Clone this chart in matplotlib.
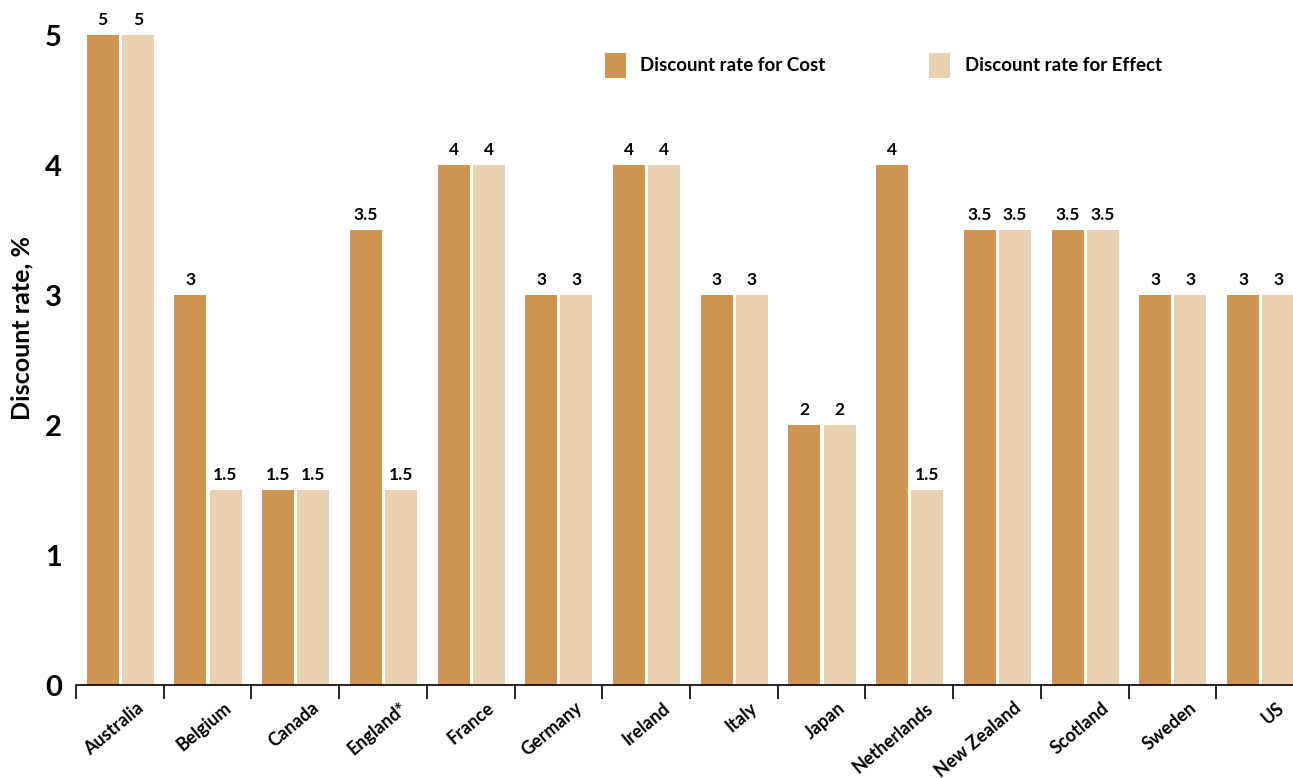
import matplotlib
matplotlib.use("Agg")
import matplotlib.pyplot as plt
import matplotlib.transforms as mtransforms
import numpy as np

countries = ["Australia", "Belgium", "Canada", "England*", "France", "Germany",
             "Ireland", "Italy", "Japan", "Netherlands", "New Zealand",
             "Scotland", "Sweden", "US"]
cost_rates = [5, 3, 1.5, 3.5, 4, 3, 4, 3, 2, 4, 3.5, 3.5, 3, 3]
effect_rates = [5, 1.5, 1.5, 1.5, 4, 3, 4, 3, 2, 1.5, 3.5, 3.5, 3, 3]
y_ticks = [0, 1, 2, 3, 4, 5]

COST_COLOR = "#CF9555"
EFFECT_COLOR = "#E9D0B0"

plt.rcParams["font.family"] = ["Lato", "DejaVu Sans"]

fig = plt.figure(figsize=(12.93, 7.78), dpi=100)
ax = fig.add_axes([76 / 1293, 93 / 778, 1228 / 1293, 685 / 778])

x = np.arange(len(countries))
w = 0.365
b1 = ax.bar(x - 0.195, cost_rates, width=w, color=COST_COLOR, label="Discount rate for Cost")
b2 = ax.bar(x + 0.205, effect_rates, width=w, color=EFFECT_COLOR, label="Discount rate for Effect")


def fmt(v):
    return f"{v:g}"


for bars, vals in ((b1, cost_rates), (b2, effect_rates)):
    for rect, v in zip(bars, vals):
        ax.annotate(fmt(v), (rect.get_x() + rect.get_width() / 2, v),
                    xytext=(0, 5), textcoords="offset points",
                    ha="center", va="bottom", fontsize=12.5, fontweight="bold")

ax.set_xlim(-0.5, len(countries) - 0.5)
ax.set_ylim(0, 685 / 130)

# group boundary ticks on the x axis, labels at group centres
ax.set_xticks(np.arange(len(countries)) - 0.5)
ax.set_xticklabels([])
ax.tick_params(axis="x", length=10, width=1.2, color="black")
offset = mtransforms.ScaledTranslation(16 / 100, 0, fig.dpi_scale_trans)
for xi, name in zip(x, countries):
    ax.text(xi, -0.11, name, rotation=40, ha="right", va="top",
            rotation_mode="anchor", fontsize=13, fontweight="bold",
            transform=ax.transData + offset)

ax.set_yticks(y_ticks)
ax.set_yticklabels([str(t) for t in y_ticks], fontsize=21, fontweight="bold")
ax.tick_params(axis="y", length=0, pad=10)

for side in ("left", "right", "top"):
    ax.spines[side].set_visible(False)
ax.spines["bottom"].set_linewidth(1.2)

fig.text(22 / 1293, 1 - 328 / 778, "Discount rate, %", rotation=90,
         ha="center", va="center", fontsize=18, fontweight="bold")

leg = ax.legend(loc="upper left", bbox_to_anchor=(512 / 1228, 1 - 36 / 685),
                ncol=2, frameon=False, fontsize=13.5, handlelength=1.1,
                handleheight=1.67, columnspacing=5.5, handletextpad=0.8)
for t in leg.get_texts():
    t.set_fontweight("bold")

fig.savefig("out.png", dpi=100)
